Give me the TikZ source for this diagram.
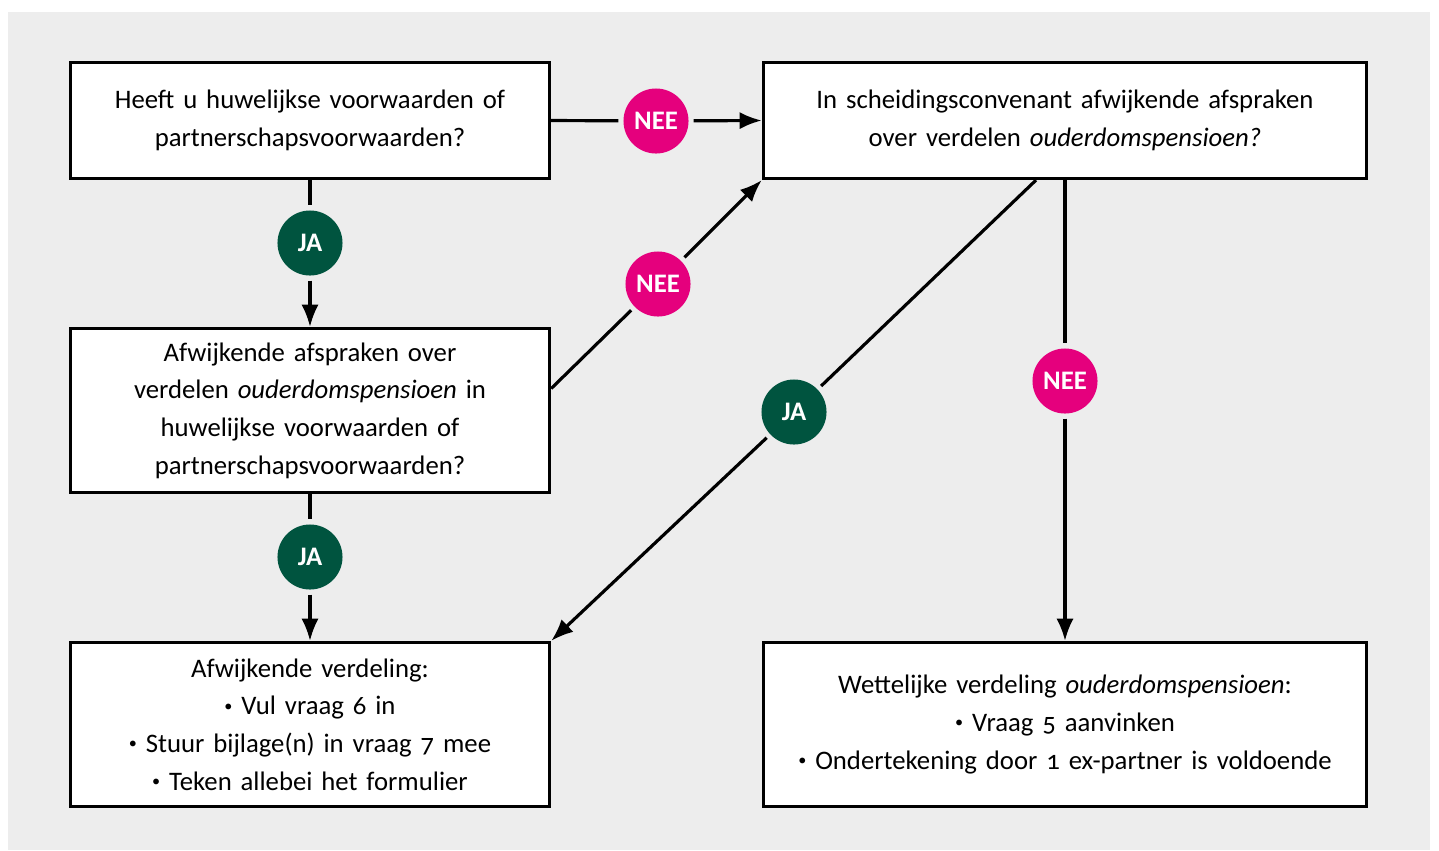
\documentclass[tikz,border=0pt]{standalone}
\usepackage{fontspec}
\setmainfont{Carlito}[Numbers=OldStyle, WordSpace=0.85]
\usetikzlibrary{
arrows.meta,
calc,
positioning
}
\definecolor{achtergrond}{HTML}{EDEDED}
\definecolor{nee_rood}{HTML}{E5007D}
\definecolor{ja_groen}{HTML}{00543F}
\newcommand{\opsom}{\raisebox{0.28ex}{\fontsize{4.6}{5}\selectfont\textbullet}\ }
\tikzset{
kreis/.style={circle, draw=none, inner sep=0pt, minimum size=0.65cm, outer sep=0.05cm, text=white, font=\bfseries\fontsize{7.6}{9}\selectfont}
}

\begin{document}
\begin{tikzpicture}
[x=0.01cm, y=0.01cm,
block_normal/.style ={ rectangle, draw, line width=0.9pt, fill=white, align=center, minimum width=4.79cm, minimum height=1.16cm, text width=4.7cm, inner sep=0pt, font=\fontsize{7.6}{10.7}\selectfont},
block_hoog/.style ={ block_normal, minimum height=1.64cm},
block_breed/.style ={ minimum width=6.03cm, text width=5.9cm},
kreis_nee/.style ={ kreis, fill=nee_rood},
kreis_ja/.style ={ kreis, fill=ja_groen},
line_inner/.style ={draw, line width=0.9pt},
line_pfeil/.style ={line_inner, -{Latex[length=6.3pt, width=4.9pt]}}]

\useasboundingbox (0,0) rectangle (1439,850);
\fill[achtergrond] (8,0) rectangle (1430,838);

% Vragen
\node [block_normal] (voorwaarden) at (310,729.5) {Heeft u huwelijkse voorwaarden of\\partnerschapsvoorwaarden?};
\node [block_normal, block_breed] (convenant) at (1065,729.5) {In scheidingsconvenant afwijkende afspraken\\over verdelen \textit{ouderdomspensioen?}};
\node [block_hoog] (afspraken) at (310,439.5) {Afwijkende afspraken over\\verdelen \textit{ouderdomspensioen} in\\huwelijkse voorwaarden of\\partnerschapsvoorwaarden?};

% Uitkomsten
\node [block_hoog] (afwijkend) at (310,125.5) {Afwijkende verdeling:\\\opsom Vul vraag 6 in\\\opsom Stuur bijlage(n) in vraag 7 mee\\\opsom Teken allebei het formulier};
\node [block_hoog, block_breed] (wettelijk) at (1065,125.5) {Wettelijke verdeling \textit{ouderdomspensioen}:\\\opsom Vraag 5 aanvinken\\\opsom Ondertekening door 1 ex-partner is voldoende};

% Antwoorden
\node [kreis_nee] (nee1) at (656,729) {NEE};
\node [kreis_ja] (ja1) at (310,607) {JA};
\node [kreis_nee] (nee2) at (658,566) {NEE};
\node [kreis_ja] (ja2) at (310,293) {JA};
\node [kreis_ja] (ja3) at (794,438) {JA};
\node [kreis_nee] (nee3) at (1065,469) {NEE};

\coordinate (afspraken_uit) at ($(afspraken.east)+(0,22)$);
\coordinate (convenant_uit) at ($(convenant.south)+(-29,0)$);

%%Pfeile%%%
\draw [line_inner] (voorwaarden.east) -- (nee1);
\draw [line_pfeil] (nee1) -- (convenant.west);
\draw [line_inner] (voorwaarden.south) -- (ja1);
\draw [line_pfeil] (ja1) -- (afspraken.north);
\draw [line_inner] (afspraken_uit) -- (nee2);
\draw [line_pfeil] (nee2) -- (convenant.south west);
\draw [line_inner] (afspraken.south) -- (ja2);
\draw [line_pfeil] (ja2) -- (afwijkend.north);
\draw [line_inner] (convenant_uit) -- (ja3);
\draw [line_pfeil] (ja3) -- (afwijkend.north east);
\draw [line_inner] (convenant.south) -- (nee3);
\draw [line_pfeil] (nee3) -- (wettelijk.north);

\end{tikzpicture}
\end{document}
